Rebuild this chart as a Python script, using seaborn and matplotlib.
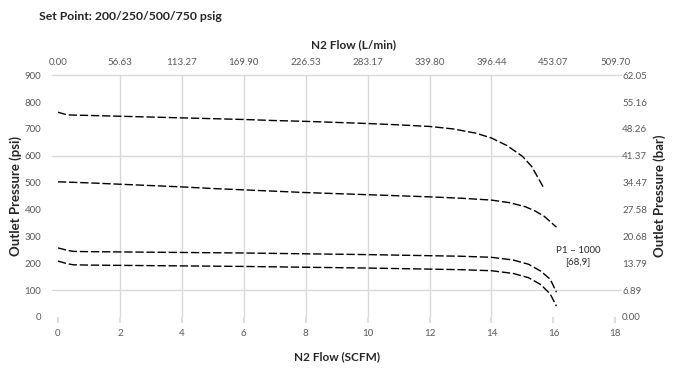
"""Outlet pressure vs N2 flow for four set points."""

import matplotlib
matplotlib.use("Agg")
import matplotlib.pyplot as plt
import pandas as pd
import seaborn as sns

# curves (SCFM, psi)
flow_750 = [0, 0.3, 1, 2, 3, 4, 5, 6, 7, 8, 9, 10, 11, 12, 12.75, 13.5, 14, 14.5, 15, 15.3, 15.7]
psi_750 = [762, 752, 750, 747, 744, 741, 738, 735, 731, 728, 724, 720, 715, 709, 700, 684, 666, 638, 598, 560, 478]

flow_500 = [0, 1, 2, 3, 4, 5, 6, 7, 8, 9, 10, 11, 12, 13, 14, 14.6, 15.1, 15.4, 15.7, 16.1]
psi_500 = [503, 499, 494, 489, 484, 478, 473, 468, 463, 459, 455, 451, 447, 442, 435, 425, 410, 395, 375, 334]

flow_250 = [0, 0.3, 0.5, 1, 2, 4, 6, 8, 10, 11, 12, 13, 14, 14.7, 15.2, 15.6, 15.9, 16.1]
psi_250 = [257, 248, 244, 243, 242, 240, 238, 235, 232, 230, 228, 226, 222, 212, 196, 170, 140, 92]

flow_200 = [0, 0.3, 0.5, 1, 2, 4, 6, 8, 10, 11, 12, 13, 14, 14.7, 15.2, 15.6, 15.9, 16.1]
psi_200 = [208, 198, 194, 193, 192, 190, 188, 185, 182, 180, 178, 176, 172, 162, 146, 120, 85, 40]

x_ticks = [0, 2, 4, 6, 8, 10, 12, 14, 16, 18]
y_ticks = [0, 100, 200, 300, 400, 500, 600, 700, 800, 900]
top_labels = ["0.00", "56.63", "113.27", "169.90", "226.53", "283.17", "339.80", "396.44", "453.07", "509.70"]
right_labels = ["0.00", "6.89", "13.79", "20.68", "27.58", "34.47", "41.37", "48.26", "55.16", "62.05"]
grid_x = [2, 4, 6, 8, 10, 12, 14]
grid_y = [100, 600, 900]

curves = {"750": (flow_750, psi_750), "500": (flow_500, psi_500),
          "250": (flow_250, psi_250), "200": (flow_200, psi_200)}
frames = []
for name, (fl, ps) in curves.items():
    frames.append(pd.DataFrame({"flow": fl, "pressure": ps, "set_point": name}))
df = pd.concat(frames, ignore_index=True)

sns.set_theme(style="white")
plt.rcParams["font.family"] = ["Lato", "DejaVu Sans"]

fig = plt.figure(figsize=(6.78, 3.72), dpi=100)
ax = fig.add_axes([0.0855, 0.148, 0.822, 0.65])

grid_color = "#d9d9d9"
for gx in grid_x:
    ax.axvline(gx, color=grid_color, lw=1.0, zorder=0)
for gy in grid_y:
    ax.axhline(gy, xmin=-0.01, xmax=1.01, color=grid_color, lw=1.0, zorder=0, clip_on=False)

sns.lineplot(data=df, x="flow", y="pressure", hue="set_point", style="set_point",
             palette=["black"] * 4, dashes=[(6, 2)] * 4, sort=False,
             estimator=None, linewidth=1.0, legend=False, ax=ax)

ax.set_xlim(0, 18)
ax.set_ylim(0, 900)
for s in ax.spines.values():
    s.set_visible(False)

tick_color = "#595959"
label_color = "#262626"
ax.set_xticks(x_ticks)
ax.set_yticks(y_ticks)
ax.tick_params(axis="x", length=4, color=grid_color, labelsize=7, labelcolor=tick_color, pad=5)
ax.tick_params(axis="y", length=0, labelsize=7, labelcolor=tick_color, pad=12)
ax.set_xlabel("N2 Flow (SCFM)", fontsize=8.5, fontweight="bold", color=label_color, labelpad=9)
ax.set_ylabel("Outlet Pressure (psi)", fontsize=9.5, fontweight="bold", color=label_color, labelpad=2)

top = ax.twiny()
top.set_xlim(ax.get_xlim())
top.set_xticks(x_ticks)
top.set_xticklabels(top_labels)
top.tick_params(axis="x", length=0, labelsize=7, labelcolor=tick_color, pad=6)
top.set_xlabel("N2 Flow (L/min)", fontsize=8.5, fontweight="bold", color=label_color)
top.xaxis.set_label_coords(0.53, 1.11)

right = ax.twinx()
right.set_ylim(ax.get_ylim())
right.set_yticks(y_ticks)
right.set_yticklabels(right_labels)
right.tick_params(axis="y", length=0, labelsize=7, labelcolor=tick_color, pad=5)
right.set_ylabel("Outlet Pressure (bar)", fontsize=9.5, fontweight="bold", color=label_color, labelpad=4)
for a in (top, right):
    for s in a.spines.values():
        s.set_visible(False)

ax.text(16.8, 225, "P1 \u2013 1000\n[68,9]", ha="center", va="center",
        fontsize=7, color=label_color, linespacing=1.3)

fig.text(0.058, 0.955, "Set Point: 200/250/500/750 psig", fontsize=8.8,
         fontweight="bold", color=label_color, ha="left", va="center")

fig.savefig("out.png", dpi=100)
